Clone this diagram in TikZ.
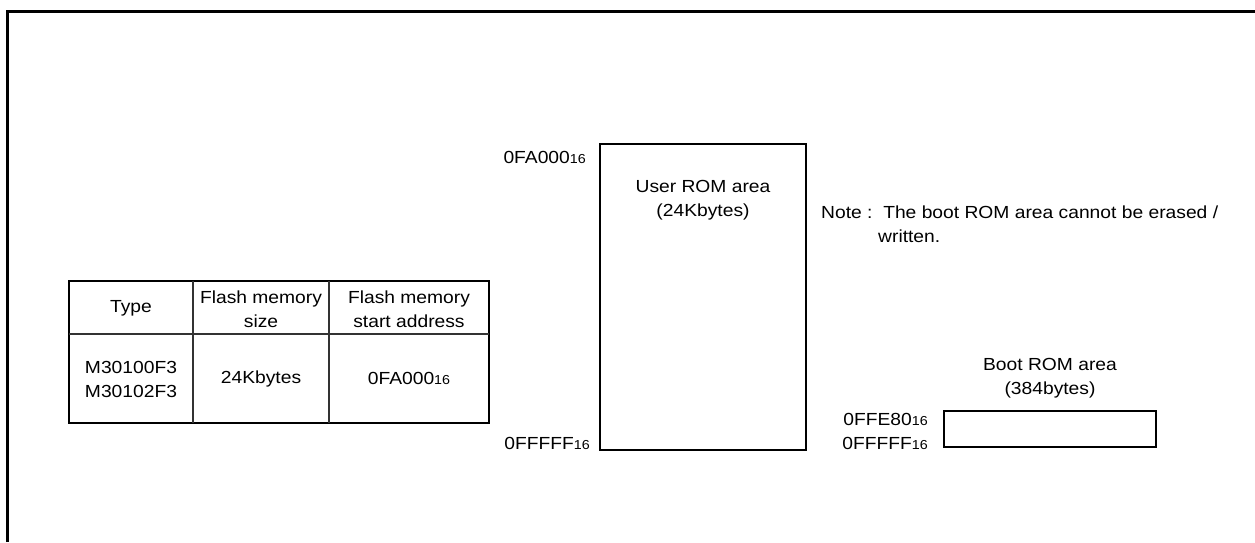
\documentclass[tikz,border=0pt]{standalone}
\usepackage{fontspec}
\setmainfont{Liberation Sans}[FakeStretch=1.1]
\usetikzlibrary{positioning}
\newcommand{\hexadr}[1]{#1{\fontsize{13}{13}\selectfont 16}}

\begin{document}
\begin{tikzpicture}[x=1pt, y=-1pt, font=\fontsize{17.5}{24}\selectfont,
  area/.style={draw, line width=1.4pt, inner sep=0pt},
  txt/.style={inner sep=0pt, align=center}]
\useasboundingbox (0,0) rectangle (1255,542);
\draw[line width=3pt] (7,542) -- (7,11) -- (1255,11);

% table
\draw[line width=1.4pt] (69,281) rectangle (489,423);
\draw[line width=1.1pt, black!80] (69,334) -- (489,334) (193,281) -- (193,423) (329,281) -- (329,423);
\node[txt] (type) at (131,308) {Type};
\node[txt] (size) at (261,309) {Flash memory\\size};
\node[txt] (start) at (409,309) {Flash memory\\start address};
\node[txt] (chips) at (131,379) {M30100F3\\M30102F3};
\node[txt] (kbytes) at (261,379) {24Kbytes};
\node[txt] (startval) at (409,378) {\hexadr{0FA000}};

% user ROM
\node[area, minimum width=206pt, minimum height=306pt] (userrom) at (703,297) {};
\node[txt] (usertxt) at (703,200) {User ROM area\\(24Kbytes)};
\node[txt, anchor=east] (usertop) at (586,157) {\hexadr{0FA000}};
\node[txt, anchor=east] (userend) at (590,443) {\hexadr{0FFFFF}};

% note
\node[txt, anchor=west] (note) at (821,212) {Note :\ \ The boot ROM area cannot be erased /};
\node[txt, anchor=west] (note2) at (878,236) {written.};

% boot ROM
\node[area, minimum width=212pt, minimum height=36pt] (bootrom) at (1050,429) {};
\node[txt] (boottxt) at (1050,378) {Boot ROM area\\(384bytes)};
\node[txt, anchor=east] (boottop) at (928,419) {\hexadr{0FFE80}};
\node[txt, anchor=east] (bootend) at (928,443) {\hexadr{0FFFFF}};
\end{tikzpicture}
\end{document}
